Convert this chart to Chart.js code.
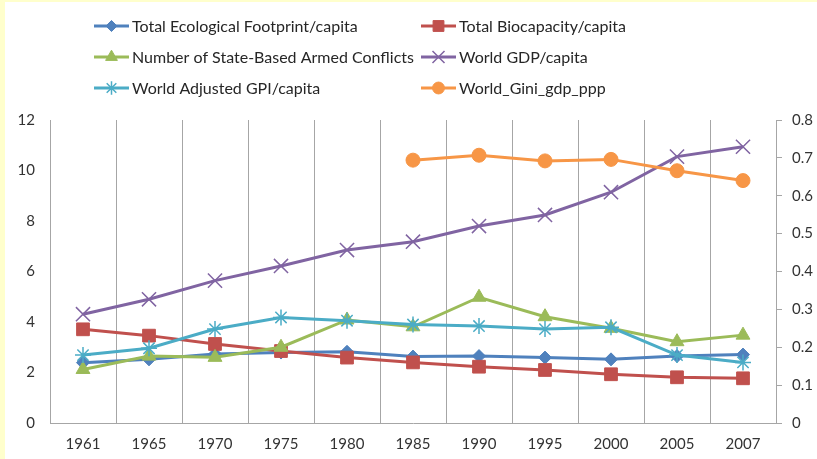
<!DOCTYPE html>
<html>
<head>
<meta charset="utf-8">
<script src="https://cdn.jsdelivr.net/npm/chart.js@4.4.1/dist/chart.umd.min.js"></script>
<style>
  html, body { margin: 0; padding: 0; background: #ffffff; }
  #wrap { position: relative; width: 817px; height: 459px; }
  canvas { display: block; }
</style>
</head>
<body>
<div id="wrap"><canvas id="c" width="817" height="459"></canvas></div>
<script>
const categories = ['1961','1965','1970','1975','1980','1985','1990','1995','2000','2005','2007'];

const ecoFootprint = [2.39, 2.52, 2.73, 2.79, 2.82, 2.63, 2.65, 2.59, 2.52, 2.65, 2.71];
const biocapacity  = [3.71, 3.46, 3.13, 2.85, 2.59, 2.40, 2.23, 2.10, 1.93, 1.81, 1.77];
const armedConflicts = [2.12, 2.65, 2.60, 3.00, 4.08, 3.81, 4.98, 4.21, 3.75, 3.22, 3.48];
const worldGdp     = [4.31, 4.90, 5.64, 6.22, 6.85, 7.18, 7.80, 8.24, 9.14, 10.55, 10.94];
const worldGpi     = [2.69, 2.96, 3.72, 4.18, 4.05, 3.90, 3.84, 3.72, 3.79, 2.69, 2.40];
const worldGini    = [null, null, null, null, null, 0.694, 0.707, 0.692, 0.696, 0.666, 0.640];

const leftTicks = [0, 2, 4, 6, 8, 10, 12];
const rightTicks = [0, 0.1, 0.2, 0.3, 0.4, 0.5, 0.6, 0.7, 0.8];

const seriesNames = [
  'Total Ecological Footprint/capita',
  'Total Biocapacity/capita',
  'Number of State-Based Armed Conflicts',
  'World GDP/capita',
  'World Adjusted GPI/capita',
  'World_Gini_gdp_ppp'
];

const FONT = 'Lato, "Open Sans", sans-serif';
const GRID = '#a6a6a6';

function ds(label, data, color, style, radius, pbw, axis, order) {
  return {
    label, data,
    borderColor: color, backgroundColor: color,
    pointBackgroundColor: color, pointBorderColor: color,
    pointStyle: style, pointRadius: radius, pointHoverRadius: radius,
    pointBorderWidth: pbw,
    borderWidth: 3, tension: 0, fill: false,
    spanGaps: false, yAxisID: axis, order
  };
}

const datasets = [
  ds(seriesNames[0], ecoFootprint, '#4F81BD', 'rectRot', 6.5, 1, 'y', 6),
  ds(seriesNames[1], biocapacity, '#C0504D', 'rect', 9, 1, 'y', 5),
  ds(seriesNames[2], armedConflicts, '#9BBB59', 'triangle', 8, 1, 'y', 4),
  ds(seriesNames[3], worldGdp, '#8064A2', 'crossRot', 10, 1.5, 'y', 3),
  ds(seriesNames[4], worldGpi, '#4BACC6', 'star', 8, 1.5, 'y', 2),
  ds(seriesNames[5], worldGini, '#F79646', 'circle', 7, 1, 'y1', 1)
];

const bgPlugin = {
  id: 'bg',
  beforeDraw(chart) {
    const ctx = chart.ctx;
    ctx.save();
    ctx.fillStyle = '#ffffff';
    ctx.fillRect(0, 0, chart.width, chart.height);
    ctx.fillStyle = '#FFFFCC';
    ctx.fillRect(0, 0, 5, chart.height);
    ctx.fillRect(0, 0, chart.width, 2);
    ctx.restore();
  }
};

const legendPlugin = {
  id: 'customLegend',
  afterDraw(chart) {
    const ctx = chart.ctx;
    const cols = [94, 421];
    const rows = [26, 57, 88];
    ctx.save();
    chart.data.datasets.forEach((d, i) => {
      const x0 = cols[i % 2];
      const y = rows[Math.floor(i / 2)];
      ctx.strokeStyle = d.borderColor;
      ctx.lineWidth = 3;
      ctx.beginPath();
      ctx.moveTo(x0, y);
      ctx.lineTo(x0 + 35, y);
      ctx.stroke();
      ctx.fillStyle = d.pointBackgroundColor;
      ctx.strokeStyle = d.pointBorderColor;
      ctx.lineWidth = d.pointBorderWidth;
      Chart.helpers.drawPoint(ctx, {
        pointStyle: d.pointStyle, radius: d.pointRadius * 0.85, rotation: 0,
        borderWidth: d.pointBorderWidth
      }, x0 + 17.5, y);
      ctx.fillStyle = '#262626';
      ctx.font = '16px ' + FONT;
      ctx.textBaseline = 'middle';
      ctx.textAlign = 'left';
      ctx.fillText(d.label, x0 + 38, y + 1);
    });
    ctx.restore();
  }
};

new Chart(document.getElementById('c'), {
  type: 'line',
  data: { labels: categories, datasets },
  plugins: [bgPlugin, legendPlugin],
  options: {
    responsive: false,
    animation: false,
    events: [],
    layout: { padding: { top: 120, left: 0, right: 0, bottom: 0 } },
    plugins: { legend: { display: false }, tooltip: { enabled: false } },
    scales: {
      x: {
        type: 'category',
        offset: true,
        grid: { display: true, offset: true, color: GRID, lineWidth: 1, drawTicks: false },
        border: { display: true, color: GRID, width: 1 },
        ticks: { color: '#333333', font: { family: FONT, size: 15 }, padding: 12, maxRotation: 0, autoSkip: false },
        afterFit(s) { s.height = 36; }
      },
      y: {
        position: 'left',
        min: 0, max: 12,
        afterBuildTicks(s) { s.ticks = leftTicks.map(v => ({ value: v })); },
        grid: { display: true, drawOnChartArea: false, drawTicks: false, tickLength: 0, color: GRID },
        border: { display: true, color: GRID, width: 1 },
        ticks: { color: '#333333', font: { family: FONT, size: 15 }, padding: 15 },
        afterFit(s) { s.width = 50; }
      },
      y1: {
        position: 'right',
        min: 0, max: 0.8,
        afterBuildTicks(s) { s.ticks = rightTicks.map(v => ({ value: v })); },
        grid: { display: true, drawOnChartArea: false, drawTicks: true, tickLength: 6, color: GRID },
        border: { display: true, color: GRID, width: 1 },
        ticks: { color: '#333333', font: { family: FONT, size: 15 }, padding: 10,
          callback: v => String(+(+v).toFixed(1)) },
        afterFit(s) { s.width = 41; }
      }
    }
  }
});
</script>
</body>
</html>
